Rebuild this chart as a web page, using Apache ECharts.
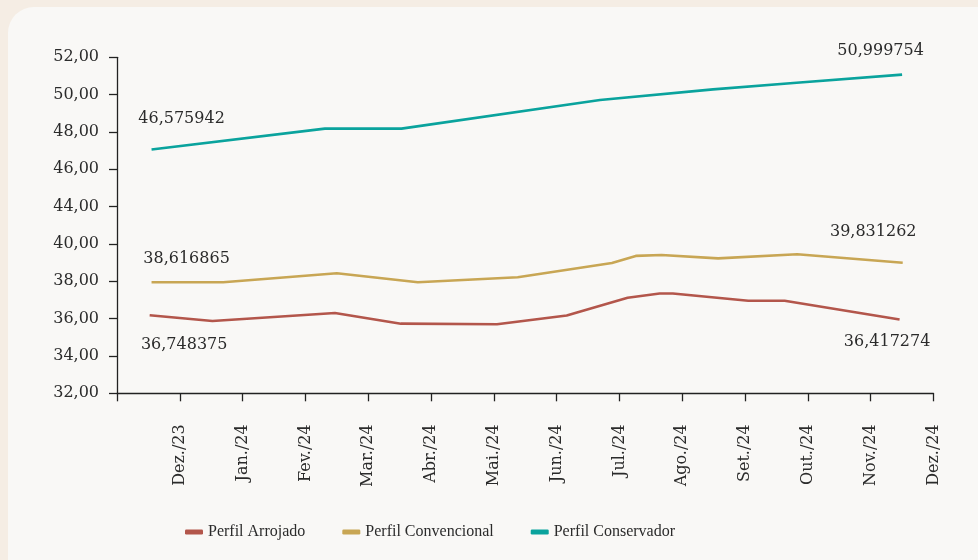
<!DOCTYPE html>
<html>
<head>
<meta charset="utf-8">
<script src="https://cdn.jsdelivr.net/npm/echarts@6/dist/echarts.min.js"></script>
<style>
  html, body { margin: 0; padding: 0; background: #f5ede4; }
  #chart { width: 978px; height: 560px; }
</style>
</head>
<body>
<div id="chart"></div>
<script>
var myChart = echarts.init(document.getElementById('chart'))

// rótulos do eixo x (um por marca, a partir da segunda)
var months = ['Dez./23', 'Jan./24', 'Fev./24', 'Mar./24', 'Abr./24', 'Mai./24', 'Jun./24',
  'Jul./24', 'Ago./24', 'Set./24', 'Out./24', 'Nov./24', 'Dez./24']
// o eixo y original pula o 42,00
var yTicks = ['32,00', '34,00', '36,00', '38,00', '40,00', '44,00', '46,00', '48,00', '50,00', '52,00']

// posição no tempo, em meses contados desde o início do eixo
var arrojadoX = [0.52, 1.52, 3.47, 4.52, 6.05, 7.16, 8.13, 8.64, 8.85, 10.05, 10.63, 12.46]
var arrojado = [36.18, 35.87, 36.30, 35.73, 35.70, 36.17, 37.12, 37.35, 37.35, 36.96, 36.96, 35.95]
var convencionalX = [0.55, 1.69, 3.50, 4.79, 6.38, 7.88, 8.26, 8.67, 9.57, 10.83, 12.51]
var convencional = [37.95, 37.95, 38.43, 37.95, 38.22, 38.98, 39.36, 39.41, 39.23, 39.45, 38.99]
var conservadorX = [0.55, 3.31, 4.53, 7.69, 9.49, 10.82, 12.50]
var conservador = [47.06, 48.18, 48.18, 49.71, 50.28, 50.64, 51.07]

// valores escritos no início e no fim de cada linha
var startLabels = [36.748375, 38.616865, 46.575942]
var endLabels = [36.417274, 39.831262, 50.999754]

var serif = 'DejaVu Serif'
var textColor = '#2b2b2b'

// acima de 42 o eixo anda 2 unidades a menos
function toAxis(v) { return v > 42 ? v - 2 : v }
function fmt(v) { return v.toFixed(6).replace('.', ',') }

function pairs(xs, ys) {
  return xs.map(function (x, i) { return [x, toAxis(ys[i])] })
}

function marks(xs, ys, i, offStart, offEnd) {
  var last = xs.length - 1
  return {
    symbol: 'circle',
    symbolSize: 0,
    silent: true,
    label: { show: true, position: 'inside', color: textColor, fontFamily: serif, fontSize: 16 },
    data: [
      { coord: [xs[0], toAxis(ys[0])], label: { formatter: fmt(startLabels[i]), offset: offStart } },
      { coord: [xs[last], toAxis(ys[last])], label: { formatter: fmt(endLabels[i]), offset: offEnd } }
    ]
  }
}

var option = {
  animation: false,
  graphic: [{
    type: 'rect',
    z: -10,
    shape: { x: 8, y: 7, width: 1000, height: 600, r: [26, 0, 0, 0] },
    style: { fill: '#f9f8f6' }
  }],
  grid: { left: 117, right: 44.5, top: 57.3, bottom: 166.7, outerBoundsMode: 'none' },
  xAxis: {
    type: 'value',
    min: 0,
    max: 13,
    interval: 1,
    splitLine: { show: false },
    axisLine: { show: true, lineStyle: { color: '#222', width: 1.3 } },
    axisTick: { show: true, length: 8, lineStyle: { color: '#222', width: 1.3 } },
    axisLabel: {
      rotate: 90,
      margin: 31,
      color: textColor,
      fontFamily: serif,
      fontSize: 16,
      formatter: function (v) { return v >= 1 ? months[v - 1] : '' }
    }
  },
  yAxis: {
    type: 'value',
    min: 32,
    max: 50,
    interval: 2,
    splitLine: { show: false },
    axisLine: { show: true, lineStyle: { color: '#222', width: 1.3 } },
    axisTick: { show: true, length: 8, lineStyle: { color: '#222', width: 1.3 } },
    axisLabel: {
      margin: 18,
      color: textColor,
      fontFamily: serif,
      fontSize: 16,
      formatter: function (v) { return yTicks[Math.round((v - 32) / 2)] }
    }
  },
  legend: {
    left: 180,
    top: 519,
    icon: 'roundRect',
    itemWidth: 18,
    itemHeight: 5,
    itemGap: 37,
    textStyle: { color: textColor, fontFamily: 'Liberation Serif', fontSize: 16 },
    data: ['Perfil Arrojado', 'Perfil Convencional', 'Perfil Conservador']
  },
  series: [
    {
      name: 'Perfil Arrojado',
      type: 'line',
      showSymbol: false,
      color: '#b3564b',
      lineStyle: { width: 2.6 },
      data: pairs(arrojadoX, arrojado),
      markPoint: marks(arrojadoX, arrojado, 0, [34.5, 30], [-12.5, 22])
    },
    {
      name: 'Perfil Convencional',
      type: 'line',
      showSymbol: false,
      color: '#c8a654',
      lineStyle: { width: 2.6 },
      data: pairs(convencionalX, convencional),
      markPoint: marks(convencionalX, convencional, 1, [35, -23], [-29.5, -31])
    },
    {
      name: 'Perfil Conservador',
      type: 'line',
      showSymbol: false,
      color: '#0aa39d',
      lineStyle: { width: 2.6 },
      data: pairs(conservadorX, conservador),
      markPoint: marks(conservadorX, conservador, 2, [30, -30.5], [-21.5, -24])
    }
  ]
}

myChart.setOption(option)
</script>
</body>
</html>
